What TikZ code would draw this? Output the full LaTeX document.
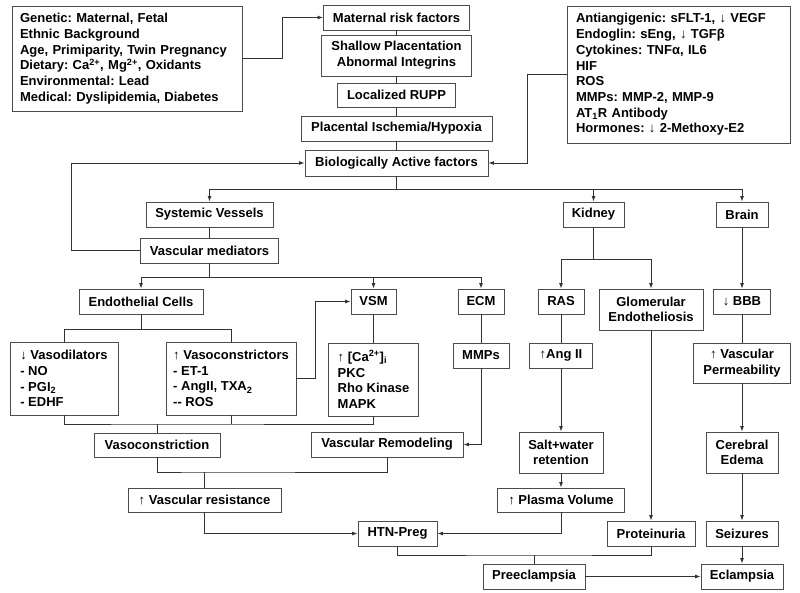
\documentclass[tikz,border=0pt]{standalone}
\usepackage{fontspec}
\setmainfont{Liberation Sans}
\usetikzlibrary{arrows.meta}
\frenchspacing

\begin{document}
\begin{tikzpicture}[x=1pt,y=-1pt,
  box/.style={draw=black!70,line width=0.9pt,fill=white,inner sep=0pt,align=center,
    font=\bfseries\fontsize{13}{15.7}\selectfont},
  link/.style={draw=black!80,line width=0.9pt},
  arr/.style={link,-{Latex[length=5.5pt,width=4pt]}}]
\fill[white] (0,0) rectangle (800,593);
\useasboundingbox (0,0) rectangle (800,593);

% causes and placenta
\node[box,align=left,text width=214pt,inner xsep=8pt,minimum height=105pt] (risk) at (127,58.5) {
Genetic: Maternal, Fetal\\
Ethnic Background\\
Age, Primiparity, Twin Pregnancy\\
Dietary: Ca\textsuperscript{2+}, Mg\textsuperscript{2+}, Oxidants\\
Environmental: Lead\\
Medical: Dyslipidemia, Diabetes};
\node[box,minimum width=146pt,minimum height=25pt] (mrf) at (396.5,17.5) {Maternal risk factors};
\node[box,minimum width=150pt,minimum height=41pt] (shallow) at (396.5,55.5) {Shallow Placentation\\Abnormal Integrins};
\node[box,minimum width=118pt,minimum height=24pt] (rupp) at (396.5,95) {Localized RUPP};
\node[box,minimum width=191pt,minimum height=25pt] (isch) at (396.5,128.5) {Placental Ischemia/Hypoxia};
\node[box,minimum width=183pt,minimum height=26pt] (bio) at (396.5,163) {Biologically Active factors};
\node[box,align=left,text width=205pt,inner xsep=9pt,minimum height=137pt] (factors) at (678.5,74.5) {
Antiangigenic: sFLT-1, ↓ VEGF\\
Endoglin: sEng, ↓ TGFβ\\
Cytokines: TNFα, IL6\\
HIF\\
ROS\\
MMPs: MMP-2, MMP-9\\
AT\textsubscript{1}R Antibody\\
Hormones: ↓ 2-Methoxy-E2};

% organs
\node[box,minimum width=127pt,minimum height=25pt] (sysves) at (209.5,214.5) {Systemic Vessels};
\node[box,minimum width=61pt,minimum height=25pt] (kidney) at (593.5,214.5) {Kidney};
\node[box,minimum width=52pt,minimum height=25pt] (brain) at (742,214.5) {Brain};
\node[box,minimum width=138pt,minimum height=25pt] (vasmed) at (209.5,250.5) {Vascular mediators};
\node[box,minimum width=124pt,minimum height=25pt] (endo) at (141,301.5) {Endothelial Cells};
\node[box,minimum width=45pt,minimum height=25pt] (vsm) at (373.5,301.5) {VSM};
\node[box,minimum width=46pt,minimum height=25pt] (ecm) at (481,301.5) {ECM};
\node[box,minimum width=46pt,minimum height=25pt] (ras) at (561,301.5) {RAS};
\node[box,minimum width=104pt,minimum height=41pt] (glom) at (651,309.5) {Glomerular\\Endotheliosis};
\node[box,minimum width=57pt,minimum height=25pt] (bbb) at (742,301.5) {↓ BBB};

% mechanisms
\node[box,align=left,inner xsep=3pt,minimum width=108pt,minimum height=73pt] (vdil) at (64,378.5) {
↓ Vasodilators\\
- NO\\
- PGI\textsubscript{2}\\
- EDHF};
\node[box,align=left,inner xsep=2pt,minimum width=130pt,minimum height=73pt] (vcon) at (231,378.5) {
↑ Vasoconstrictors\\
- ET-1\\
- AngII, TXA\textsubscript{2}\\
-{}- ROS};
\node[box,align=left,inner xsep=4pt,minimum width=90pt,minimum height=73pt] (ca) at (373.5,379.5) {
↑ [Ca\textsuperscript{2+}]\textsubscript{i}\\
PKC\\
Rho Kinase\\
MAPK};
\node[box,minimum width=56pt,minimum height=25pt] (mmps) at (481,355.5) {MMPs};
\node[box,minimum width=63pt,minimum height=25pt] (ang) at (561,355.5) {↑Ang II};
\node[box,minimum width=97pt,minimum height=40pt] (perm) at (742,363) {↑ Vascular\\Permeability};
\node[box,minimum width=126pt,minimum height=24pt] (vcstr) at (157,445) {Vasoconstriction};
\node[box,minimum width=152pt,minimum height=25pt] (remod) at (387,444.5) {Vascular Remodeling};
\node[box,minimum width=84pt,minimum height=41pt] (salt) at (561,452.5) {Salt+water\\retention};
\node[box,minimum width=72pt,minimum height=41pt] (edema) at (742,452.5) {Cerebral\\Edema};

% outcomes
\node[box,minimum width=153pt,minimum height=24pt] (resist) at (204.5,500) {↑ Vascular resistance};
\node[box,minimum width=127pt,minimum height=24pt] (plasma) at (561,500) {↑ Plasma Volume};
\node[box,minimum width=79pt,minimum height=25pt] (htn) at (397.5,533.5) {HTN-Preg};
\node[box,minimum width=88pt,minimum height=25pt] (prot) at (651,533.5) {Proteinuria};
\node[box,minimum width=72pt,minimum height=25pt] (seiz) at (742,533.5) {Seizures};
\node[box,minimum width=102pt,minimum height=25pt] (pre) at (534,576.5) {Preeclampsia};
\node[box,minimum width=82pt,minimum height=25pt] (ecl) at (742,576.5) {Eclampsia};

\coordinate (bsplit) at (396.5,189);
\coordinate (vsplit) at (209.5,277);
\coordinate (esplit) at (141,329);
\coordinate (cjoin) at (157,424);
\coordinate (rjoin) at (204.5,472);
\coordinate (ksplit) at (593.5,259);
\coordinate (pjoin) at (534,555);

% connectors
\draw[arr] (risk.east) -- ++(40,0) |- (mrf.west);
\draw[link] (mrf) -- (shallow) -- (rupp) -- (isch) -- (bio);
\draw[arr] (factors.west) -- ++(-39,0) |- (bio.east);
\draw[arr] (vasmed.west) -- ++(-68.5,0) |- (bio.west);
\draw[link] (bio.south) -- (bsplit);
\draw[arr] (bsplit) -| (sysves.north);
\draw[arr] (bsplit) -| (kidney.north);
\draw[arr] (bsplit) -| (brain.north);
\draw[link] (sysves) -- (vasmed);
\draw[link] (vasmed.south) -- (vsplit);
\draw[arr] (vsplit) -| (endo.north);
\draw[arr] (vsplit) -| (vsm.north);
\draw[arr] (vsplit) -| (ecm.north);
\draw[link] (endo.south) -- (esplit);
\draw[link] (esplit) -| (vdil.north);
\draw[link] (esplit) -| (vcon.north);
\draw[arr] (vcon.east) -- ++(19,0) |- (vsm.west);
\draw[link] (vsm) -- (ca);
\draw[link] (vdil.south) |- (cjoin) -| (ca.south);
\draw[link] (vcon.south) -- (vcon.south |- cjoin);
\draw[link] (cjoin) -- (vcstr.north);
\draw[link] (ecm) -- (mmps);
\draw[arr] (mmps.south) |- (remod.east);
\draw[link] (vcstr.south) |- (rjoin) -| (remod.south);
\draw[link] (rjoin) -- (resist.north);
\draw[arr] (resist.south) |- (htn.west);
\draw[link] (kidney.south) -- (ksplit);
\draw[arr] (ksplit) -| (ras.north);
\draw[arr] (ksplit) -| (glom.north);
\draw[link] (ras) -- (ang);
\draw[arr] (ang) -- (salt);
\draw[arr] (salt) -- (plasma);
\draw[arr] (plasma.south) |- (htn.east);
\draw[arr] (glom) -- (prot);
\draw[arr] (brain) -- (bbb);
\draw[link] (bbb) -- (perm);
\draw[arr] (perm) -- (edema);
\draw[arr] (edema) -- (seiz);
\draw[arr] (seiz) -- (ecl);
\draw[link] (htn.south) |- (pjoin) -| (prot.south);
\draw[link] (pjoin) -- (pre.north);
\draw[arr] (pre) -- (ecl);
\end{tikzpicture}
\end{document}
